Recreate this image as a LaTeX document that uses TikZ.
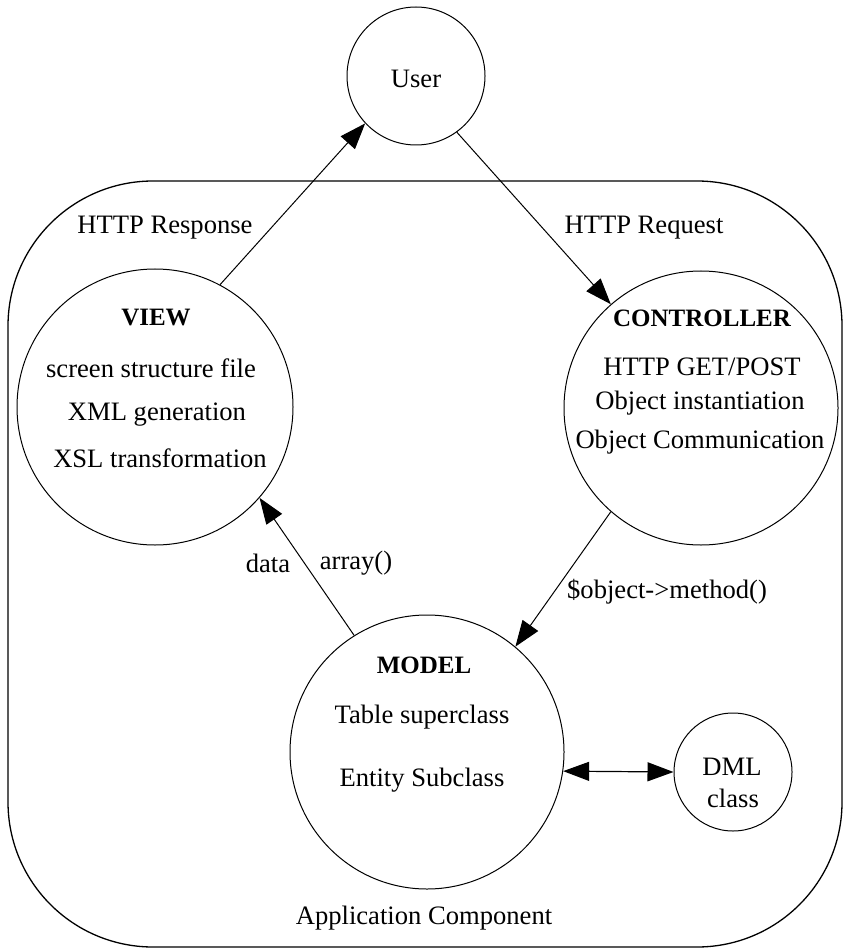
\documentclass[tikz,border=0pt]{standalone}
\usepackage{fontspec}
\setmainfont{Liberation Serif}
\usetikzlibrary{arrows.meta}

\tikzset{
  x=1pt, y=-1pt,
  circ/.style={draw, circle, line width=1pt, inner sep=0pt, minimum size=#1},
  txt/.style={inner sep=0pt, font=\fontsize{26.6}{30}\selectfont},
  head/.style={inner sep=0pt, font=\fontsize{25}{28}\selectfont\bfseries},
  flow/.style={line width=1pt, -{Triangle[length=26pt,width=19pt]}},
  both/.style={line width=1.2pt, {Triangle[length=26pt,width=19pt]}-{Triangle[length=26pt,width=19pt]}}
}

\begin{document}
\begin{tikzpicture}
\useasboundingbox (0,0) rectangle (844,949);

% application component frame
\draw[line width=1.3pt, rounded corners=145pt] (8,181) rectangle (842,947);
\node[txt] (appc) at (424,918) {Application Component};

% circles
\node[circ=138pt] (user) at (416,76) {};
\node[circ=276pt] (view) at (155,407) {};
\node[circ=274pt] (ctrl) at (701,408) {};
\node[circ=274pt] (model) at (427,752) {};
\node[circ=118pt] (dml) at (733,772) {};

% circle contents
\node[txt] (usert) at (416,79) {User};

\node[head] (viewh) at (156,318) {VIEW};
\node[txt] (view1) at (151,368) {screen structure file};
\node[txt] (view2) at (157,415) {XML generation};
\node[txt] (view3) at (160,458) {XSL transformation};

\node[head] (ctrlh) at (702,318) {CONTROLLER};
\node[txt] (ctrl1) at (702,367) {HTTP GET/POST};
\node[txt] (ctrl2) at (700,403) {Object instantiation};
\node[txt] (ctrl3) at (700,442) {Object Communication};

\node[head] (modelh) at (424,665) {MODEL};
\node[txt] (model1) at (422,717) {Table superclass};
\node[txt] (model2) at (422,780) {Entity Subclass};

\node[txt] (dml1) at (732,767) {DML};
\node[txt] (dml2) at (733,798) {class};

% connectors
\draw[flow] (view.62) -- (user.223);
\draw[flow] (user.-54) -- (ctrl.131);
\draw[flow] (ctrl.229) -- (model.50);
\draw[flow] (model.122) -- (view.-41);
\draw[both] (model.-8.4) -- (dml.west);

% connector labels
\node[txt] (resp) at (165,228) {HTTP Response};
\node[txt] (req) at (644,228) {HTTP Request};
\node[txt] (call) at (667,592) {\$object->method()};
\node[txt] (data) at (268,563) {data};
\node[txt] (arr) at (356,563) {array()};
\end{tikzpicture}
\end{document}
